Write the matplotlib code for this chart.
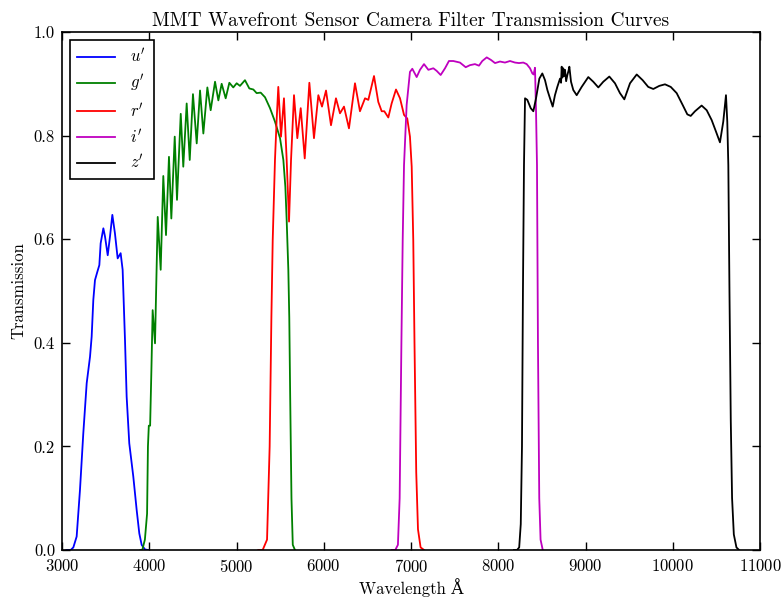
import matplotlib
matplotlib.use("Agg")
import matplotlib.pyplot as plt

plt.rcParams['font.family'] = 'serif'
plt.rcParams['font.serif'] = ['cmr10']
plt.rcParams['mathtext.fontset'] = 'cm'
plt.rcParams['axes.formatter.use_mathtext'] = True

# filter curves (wavelength in A, transmission)
u_wave = [3050, 3100, 3130, 3168, 3206, 3244, 3283, 3321, 3340, 3359, 3378, 3405, 3428,
          3443, 3474, 3493, 3524, 3550, 3577, 3607, 3638, 3672, 3695, 3722, 3741, 3771,
          3817, 3856, 3886, 3913, 3951, 3990]
u_trans = [0.0, 0.0, 0.005, 0.026, 0.116, 0.225, 0.322, 0.373, 0.412, 0.483, 0.521, 0.537, 0.55,
           0.592, 0.621, 0.605, 0.569, 0.605, 0.647, 0.611, 0.563, 0.573, 0.541, 0.405, 0.296, 0.206,
           0.142, 0.077, 0.032, 0.01, 0.001, 0.0]

g_wave = [3900, 3920, 3950, 3975, 3985, 3995, 4010, 4025, 4039, 4066, 4097, 4131, 4161,
          4192, 4226, 4253, 4292, 4318, 4361, 4390, 4429, 4464, 4501, 4544, 4582, 4620,
          4666, 4704, 4754, 4792, 4830, 4876, 4918, 4963, 5002, 5040, 5097, 5147, 5193,
          5231, 5277, 5327, 5384, 5441, 5499, 5537, 5560, 5575, 5594, 5605, 5615, 5630,
          5645, 5670]
g_trans = [0.0, 0.0, 0.02, 0.07, 0.2, 0.24, 0.24, 0.35, 0.463, 0.399, 0.643, 0.541, 0.722,
           0.608, 0.759, 0.640, 0.798, 0.676, 0.842, 0.74, 0.862, 0.753, 0.880, 0.785, 0.887, 0.804,
           0.893, 0.849, 0.904, 0.868, 0.900, 0.872, 0.902, 0.893, 0.901, 0.896, 0.907, 0.891, 0.889,
           0.882, 0.883, 0.874, 0.853, 0.827, 0.795, 0.753, 0.701, 0.637, 0.541, 0.448, 0.3, 0.1,
           0.01, 0.0]

r_wave = [5250, 5300, 5350, 5380, 5400, 5415, 5441, 5460, 5479, 5510, 5544, 5575, 5602,
          5625, 5659, 5697, 5736, 5782, 5835, 5888, 5938, 5980, 6026, 6083, 6140, 6186,
          6232, 6289, 6358, 6415, 6473, 6511, 6576, 6625, 6664, 6694, 6740, 6778, 6828,
          6874, 6920, 6957, 6988, 7008, 7026, 7040, 7060, 7080, 7110, 7150]
r_trans = [0.0, 0.0, 0.02, 0.2, 0.45, 0.598, 0.753, 0.830, 0.894, 0.798, 0.872, 0.753, 0.634,
           0.753, 0.878, 0.795, 0.853, 0.756, 0.902, 0.795, 0.878, 0.856, 0.887, 0.820, 0.872, 0.843,
           0.856, 0.814, 0.901, 0.847, 0.872, 0.869, 0.915, 0.865, 0.847, 0.847, 0.835, 0.862, 0.889,
           0.872, 0.840, 0.833, 0.798, 0.740, 0.598, 0.4, 0.15, 0.04, 0.005, 0.0]

i_wave = [6780, 6820, 6850, 6870, 6890, 6905, 6920, 6950, 6988, 7015, 7065, 7103, 7149,
          7199, 7256, 7294, 7340, 7390, 7435, 7485, 7561, 7627, 7676, 7733, 7779, 7817,
          7868, 7917, 7963, 8020, 8077, 8135, 8192, 8238, 8287, 8326, 8364, 8391, 8406,
          8421, 8433, 8444, 8455, 8470, 8485, 8510]
i_trans = [0.0, 0.0, 0.01, 0.1, 0.4, 0.6, 0.743, 0.859, 0.923, 0.929, 0.913, 0.927, 0.938,
           0.927, 0.930, 0.925, 0.917, 0.930, 0.944, 0.944, 0.941, 0.932, 0.936, 0.938, 0.935, 0.944,
           0.951, 0.946, 0.940, 0.943, 0.941, 0.944, 0.941, 0.940, 0.941, 0.938, 0.930, 0.920, 0.918,
           0.931, 0.847, 0.743, 0.4, 0.1, 0.02, 0.0]

z_wave = [8180, 8215, 8240, 8258, 8272, 8283, 8295, 8307, 8333, 8372, 8402, 8433, 8471,
          8505, 8536, 8563, 8593, 8624, 8650, 8677, 8708, 8720, 8727, 8735, 8745, 8755,
          8765, 8778, 8792, 8805, 8815, 8834, 8860, 8899, 8956, 9032, 9089, 9147, 9204,
          9273, 9338, 9395, 9445, 9510, 9587, 9655, 9719, 9777, 9846, 9911, 9977, 10045,
          10114, 10167, 10206, 10255, 10331, 10389, 10446, 10495, 10541, 10579, 10610,
          10625, 10637, 10650, 10665, 10680, 10700, 10730, 10760]
z_trans = [0.0, 0.0, 0.005, 0.05, 0.2, 0.5, 0.743, 0.872, 0.869, 0.853, 0.847, 0.872, 0.910,
           0.920, 0.907, 0.888, 0.872, 0.856, 0.878, 0.894, 0.910, 0.902, 0.933, 0.912, 0.930, 0.915,
           0.927, 0.905, 0.917, 0.925, 0.933, 0.904, 0.888, 0.878, 0.894, 0.913, 0.904, 0.893, 0.904,
           0.914, 0.901, 0.882, 0.870, 0.901, 0.918, 0.907, 0.894, 0.890, 0.896, 0.899, 0.894, 0.882,
           0.859, 0.841, 0.838, 0.847, 0.858, 0.849, 0.830, 0.808, 0.787, 0.827, 0.878,
           0.827, 0.743, 0.5, 0.25, 0.1, 0.03, 0.005, 0.0]

curves = [(u_wave, u_trans, 'b', "$u'$"),
          (g_wave, g_trans, 'g', "$g'$"),
          (r_wave, r_trans, 'r', "$r'$"),
          (i_wave, i_trans, 'm', "$i'$"),
          (z_wave, z_trans, 'k', "$z'$")]

fig = plt.figure(figsize=(7.84, 5.98), dpi=100)
ax = fig.add_axes([62 / 784, 48 / 598, 698 / 784, 518 / 598])

for w, t, c, lab in curves:
    ax.plot(w, t, color=c, lw=1.3, label=lab)

ax.set_xlim(3000, 11000)
ax.set_ylim(0, 1.0)
ax.set_xticks(range(3000, 11001, 1000))
ax.set_yticks([0.0, 0.2, 0.4, 0.6, 0.8, 1.0])
ax.set_yticklabels(['0.0', '0.2', '0.4', '0.6', '0.8', '1.0'])
ax.tick_params(direction='in', length=6, width=1, top=True, right=True, labelsize=12)
ax.tick_params(axis='x', pad=6)
ax.tick_params(axis='y', pad=5)
for s in ax.spines.values():
    s.set_linewidth(1.2)

ax.set_title("MMT Wavefront Sensor Camera Filter Transmission Curves", fontsize=14, pad=4)
ax.set_xlabel("Wavelength Å", fontsize=12, labelpad=2, family=['cmr10', 'DejaVu Serif'])
ax.set_ylabel("Transmission", fontsize=12, labelpad=5)

leg = ax.legend(loc='upper left', fancybox=False, edgecolor='k', framealpha=1,
                fontsize=12, handlelength=2.3, handletextpad=0.9, borderpad=0.45,
                labelspacing=0.45, borderaxespad=0.45)
leg.get_frame().set_linewidth(1.2)

fig.savefig("out.png", dpi=100)
